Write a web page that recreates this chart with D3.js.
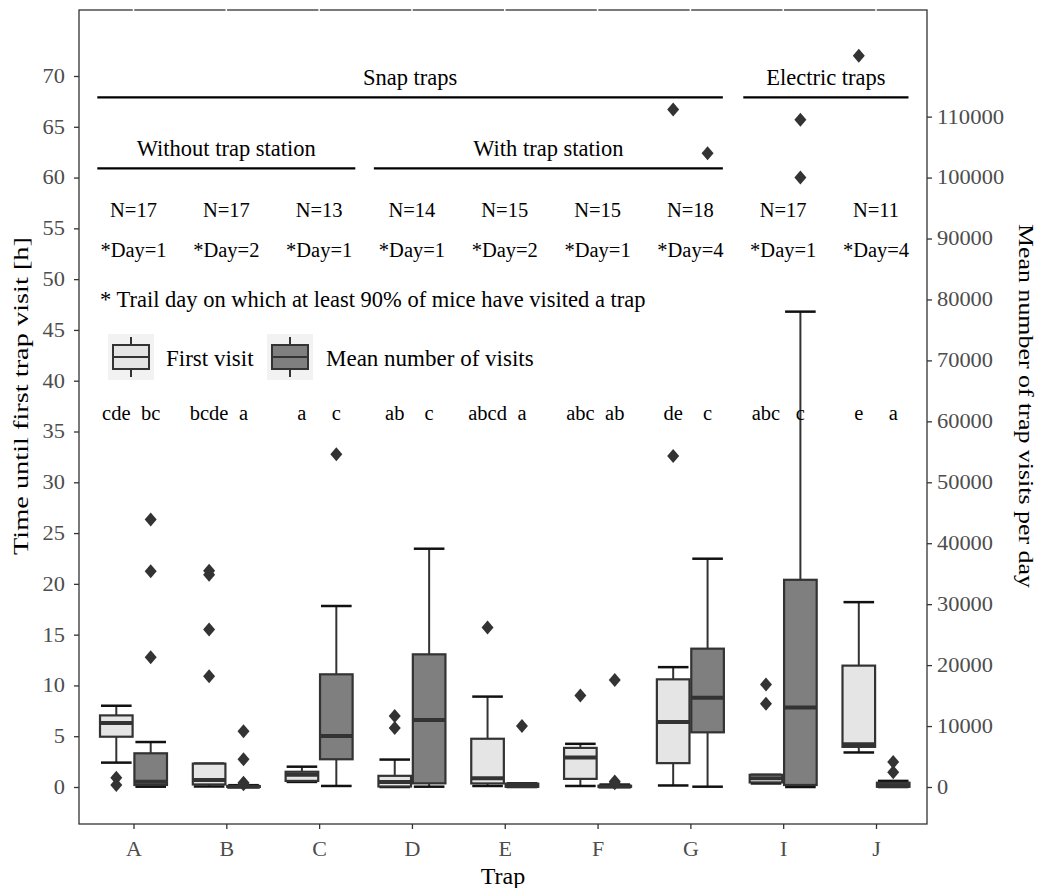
<!DOCTYPE html>
<html lang="en">
<head>
<meta charset="utf-8">
<title>Trap visits</title>
<script src="https://cdn.jsdelivr.net/npm/d3@7"></script>
<style>
  body { margin: 0; background: #fff; }
  svg text { font-family: "Liberation Serif", "Times New Roman", serif; }
</style>
</head>
<body>
<svg width="1039" height="888"></svg>
<script>
// categories and annotations
var traps = ['A', 'B', 'C', 'D', 'E', 'F', 'G', 'I', 'J'];
var nLabels = [17, 17, 13, 14, 15, 15, 18, 17, 11];
var dayLabels = [1, 2, 1, 1, 2, 1, 4, 1, 4];
var lettersFirst = ['cde', 'bcde', 'a', 'ab', 'abcd', 'abc', 'de', 'abc', 'e'];
var lettersMean = ['bc', 'a', 'c', 'c', 'a', 'ab', 'c', 'c', 'a'];

// time until first visit [h]: [lower whisker, q1, median, q3, upper whisker]
var firstStats = [
  [2.4, 4.95, 6.3, 7.05, 8.0],
  [0.05, 0.25, 0.7, 2.3, 2.3],
  [0.5, 0.6, 1.2, 1.5, 2.0],
  [0.0, 0.05, 0.5, 1.1, 2.7],
  [0.1, 0.35, 0.85, 4.75, 8.9],
  [0.1, 0.8, 2.9, 3.85, 4.25],
  [0.15, 2.35, 6.4, 10.6, 11.8],
  [0.35, 0.45, 0.85, 1.2, 1.2],
  [3.4, 3.95, 4.2, 11.95, 18.2]
];
var firstOutliers = [[0.9, 0.2], [21.3, 20.9, 15.5, 10.9], [], [7.0, 5.8], [15.7], [9.0], [32.6, 66.7], [10.1, 8.2], [72.0]];

// mean number of trap visits per day
var meanStats = [
  [50, 330, 870, 5530, 7380],
  [0, 20, 50, 150, 300],
  [170, 4550, 8370, 18490, 29700],
  [50, 600, 11000, 21770, 39100],
  [0, 30, 150, 550, 600],
  [0, 30, 80, 200, 400],
  [50, 8970, 14660, 22700, 37460],
  [0, 330, 13030, 34000, 78000],
  [0, 30, 250, 700, 1000]
];
var meanOutliers = [[43900, 35400, 21300], [9130, 4550, 700, 450], [54600], [], [10000], [17560, 900, 600], [104000], [109500, 100000], [4120, 2430]];

var leftTicks = d3.range(0, 75, 5);
var rightTicks = d3.range(0, 120000, 10000);
var visitsPerHour = 100000 / 60;

var svg = d3.select('svg');
var panelL = 79, panelR = 927, panelT = 10, panelB = 824;

var x = d3.scalePoint().domain(traps).range([panelL + 54.5, panelR - 51]);
var y = d3.scaleLinear().domain([0, 70]).range([787, 76]);
var yR = d3.scaleLinear().domain([0, 70 * visitsPerHour]).range([787, 76]);

var dodge = 17.2, halfW = 16.3;
var dark = '#333333';

// panel border
svg.append('rect')
  .attr('x', panelL).attr('y', panelT)
  .attr('width', panelR - panelL).attr('height', panelB - panelT)
  .attr('fill', 'none').attr('stroke', dark).attr('stroke-width', 1.3);
svg.selectAll('line.gap')
  .data(traps).enter().append('line')
  .attr('class', 'gap')
  .attr('x1', d => x(d)).attr('x2', d => x(d))
  .attr('y1', panelT - 2).attr('y2', panelT + 2)
  .attr('stroke', '#fff').attr('stroke-width', 1.5);

// axes
var gL = svg.append('g').attr('transform', 'translate(' + panelL + ',0)')
  .call(d3.axisLeft(y).tickValues(leftTicks).tickSize(5).tickPadding(9));
var gR = svg.append('g').attr('transform', 'translate(' + panelR + ',0)')
  .call(d3.axisRight(yR).tickValues(rightTicks).tickFormat(d3.format('d')).tickSize(5).tickPadding(5));
var gB = svg.append('g').attr('transform', 'translate(0,' + panelB + ')')
  .call(d3.axisBottom(x).tickSize(5).tickPadding(11));
[gL, gR, gB].forEach(g => {
  g.attr('font-family', null).attr('font-size', null);
  g.select('.domain').remove();
  g.selectAll('.tick line').attr('stroke', dark).attr('stroke-width', 1.3);
  g.selectAll('.tick text').attr('fill', '#4d4d4d').style('font-size', '20px')
    .attr('textLength', function () { return this.textContent.length * 11.2; })
    .attr('lengthAdjust', 'spacingAndGlyphs');
});
gB.selectAll('.tick text').style('font-size', '22px').attr('textLength', null);

// axis titles
svg.append('text')
  .attr('transform', 'translate(28,396) rotate(-90)')
  .attr('text-anchor', 'middle').style('font-size', '21px')
  .attr('textLength', 318).attr('lengthAdjust', 'spacingAndGlyphs')
  .text('Time until first trap visit [h]');
svg.append('text')
  .attr('transform', 'translate(1019,406) rotate(90)')
  .attr('text-anchor', 'middle').style('font-size', '21px')
  .attr('textLength', 364).attr('lengthAdjust', 'spacingAndGlyphs')
  .text('Mean number of trap visits per day');
svg.append('text')
  .attr('x', 503).attr('y', 884)
  .attr('text-anchor', 'middle').style('font-size', '24px')
  .text('Trap');

// boxplots
function drawBoxes(stats, outliers, yv, off, fill) {
  var g = svg.append('g');
  var grp = g.selectAll('g.box').data(traps).enter().append('g')
    .attr('class', 'box')
    .attr('transform', d => 'translate(' + (x(d) + off) + ',0)');
  grp.append('line')
    .attr('y1', (d, i) => yv(stats[i][0])).attr('y2', (d, i) => yv(stats[i][4]))
    .attr('stroke', dark).attr('stroke-width', 2);
  grp.append('line')
    .attr('x1', -halfW + 1).attr('x2', halfW - 1)
    .attr('y1', (d, i) => yv(stats[i][4])).attr('y2', (d, i) => yv(stats[i][4]))
    .attr('stroke', '#111').attr('stroke-width', 2.5);
  grp.append('line')
    .attr('x1', -halfW + 1).attr('x2', halfW - 1)
    .attr('y1', (d, i) => yv(stats[i][0])).attr('y2', (d, i) => yv(stats[i][0]))
    .attr('stroke', '#111').attr('stroke-width', 2.5);
  grp.append('rect')
    .attr('x', -halfW).attr('width', halfW * 2)
    .attr('y', (d, i) => yv(stats[i][3]))
    .attr('height', (d, i) => Math.max(yv(stats[i][1]) - yv(stats[i][3]), 0.5))
    .attr('fill', fill).attr('stroke', dark).attr('stroke-width', 2.2);
  grp.append('line')
    .attr('x1', -halfW).attr('x2', halfW)
    .attr('y1', (d, i) => yv(stats[i][2])).attr('y2', (d, i) => yv(stats[i][2]))
    .attr('stroke', dark).attr('stroke-width', 4);
  grp.selectAll('path.out')
    .data((d, i) => outliers[i]).enter().append('path')
    .attr('class', 'out')
    .attr('d', 'M0,-7L6,0L0,7L-6,0Z')
    .attr('transform', v => 'translate(0,' + yv(v) + ')')
    .attr('fill', dark);
}
drawBoxes(firstStats, firstOutliers, y, -dodge, '#e5e5e5');
drawBoxes(meanStats, meanOutliers, yR, dodge, '#7f7f7f');

// group headers
function header(label, x0, x1, yLine, yText) {
  svg.append('line').attr('x1', x0).attr('x2', x1)
    .attr('y1', y(yLine)).attr('y2', y(yLine))
    .attr('stroke', '#000').attr('stroke-width', 2.2);
  svg.append('text').attr('x', (x0 + x1) / 2).attr('y', y(yText))
    .attr('text-anchor', 'middle').style('font-size', '22.5px').text(label);
}
var stepX = x.step();
header('Snap traps', x('A') - 0.39 * stepX, x('G') + 0.35 * stepX, 67.9, 69.1);
header('Electric traps', x('I') - 0.43 * stepX, x('J') + 0.35 * stepX, 67.9, 69.1);
header('Without trap station', x('A') - 0.39 * stepX, x('C') + 0.39 * stepX, 60.9, 62.1);
header('With trap station', x('D') - 0.41 * stepX, x('G') + 0.35 * stepX, 60.9, 62.1);

// N and day labels
svg.selectAll('text.n').data(traps).enter().append('text')
  .attr('x', d => x(d)).attr('y', y(56.1))
  .attr('text-anchor', 'middle').style('font-size', '20.5px')
  .text((d, i) => 'N=' + nLabels[i]);
svg.selectAll('text.day').data(traps).enter().append('text')
  .attr('x', d => x(d)).attr('y', y(52.2))
  .attr('text-anchor', 'middle').style('font-size', '20.5px')
  .text((d, i) => '*Day=' + dayLabels[i]);
svg.append('text').attr('x', 100).attr('y', y(47.3))
  .style('font-size', '22.5px')
  .text('* Trail day on which at least 90% of mice have visited a trap');

// significance letters
svg.selectAll('text.lf').data(traps).enter().append('text')
  .attr('x', d => x(d) - dodge).attr('y', y(36.1))
  .attr('text-anchor', 'middle').style('font-size', '20.5px')
  .text((d, i) => lettersFirst[i]);
svg.selectAll('text.lm').data(traps).enter().append('text')
  .attr('x', d => x(d) + dodge).attr('y', y(36.1))
  .attr('text-anchor', 'middle').style('font-size', '20.5px')
  .text((d, i) => lettersMean[i]);

// legend
var legend = [['First visit', '#e5e5e5', 108, 166], ['Mean number of visits', '#7f7f7f', 267, 326]];
legend.forEach(l => {
  var g = svg.append('g').attr('transform', 'translate(' + l[2] + ',334)');
  g.append('rect').attr('width', 46).attr('height', 46).attr('fill', '#f2f2f2');
  g.append('line').attr('x1', 23).attr('x2', 23).attr('y1', 3).attr('y2', 43)
    .attr('stroke', dark).attr('stroke-width', 2);
  g.append('rect').attr('x', 5).attr('y', 11).attr('width', 36).attr('height', 24)
    .attr('fill', l[1]).attr('stroke', dark).attr('stroke-width', 2);
  g.append('line').attr('x1', 5).attr('x2', 41).attr('y1', 23).attr('y2', 23)
    .attr('stroke', dark).attr('stroke-width', 2);
  svg.append('text').attr('x', l[3]).attr('y', 366)
    .style('font-size', '23px').text(l[0]);
});
</script>
</body>
</html>
